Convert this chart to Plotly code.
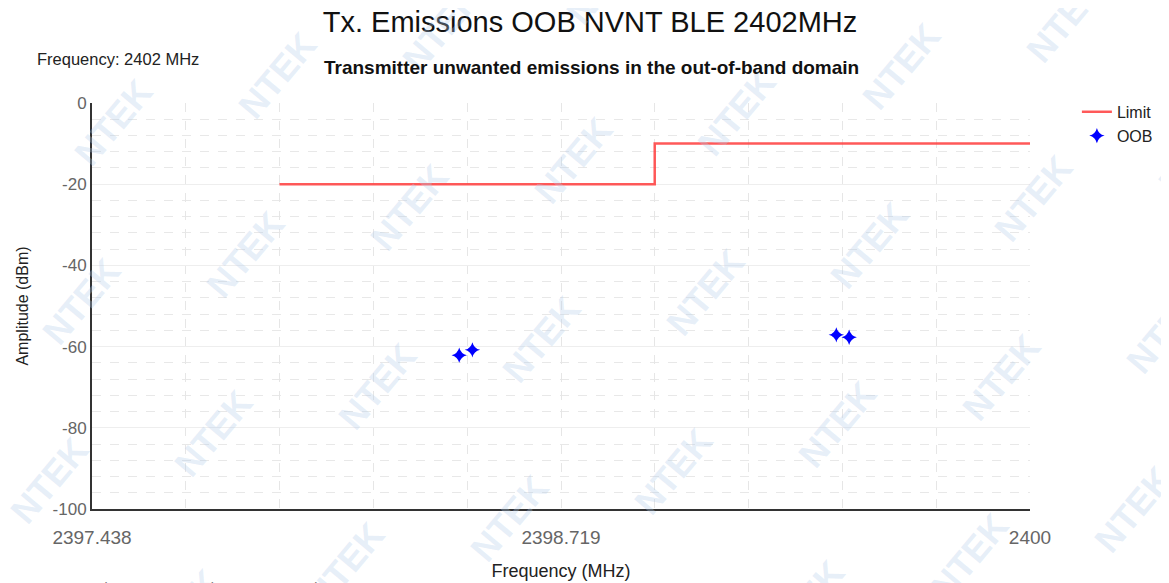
import plotly.graph_objects as go

# limit line (step)
limit_freq = [2397.950, 2398.975, 2398.975, 2400.0]
limit_amp = [-20, -20, -10, -10]

# out-of-band measured points
oob_freq = [2398.441, 2398.477, 2399.471, 2399.506]
oob_amp = [-62.1, -60.8, -57.1, -57.7]

x_start, x_end = 2397.438, 2400.0
x_grid = [x_start + i * (x_end - x_start) / 10 for i in range(11)]
x_labels = ["2397.438", "", "", "", "", "2398.719", "", "", "", "", "2400"]
y_ticks = [0, -20, -40, -60, -80, -100]
y_labels = ["0", "-20", "-40", "-60", "-80", "-100"]

fig = go.Figure()

fig.add_trace(go.Scatter(
    x=limit_freq, y=limit_amp, mode="lines", name="Limit",
    line=dict(color="rgba(255,60,60,0.85)", width=2.5),
))
fig.add_trace(go.Scatter(
    x=oob_freq, y=oob_amp, mode="markers", name="OOB",
    marker=dict(symbol="star-diamond", size=11, color="#0000ff"),
))

# NTEK watermark on a slanted lattice (screen pixels -> paper coords)
px0, pw, py1, ph = 92, 938, 509, 406
for r in range(-6, 9):
    for c in range(-6, 9):
        cx = 113 + 132 * c + 164 * r
        cy = 122 + 132 * c - 47 * r
        if -40 < cx < 1210 and -40 < cy < 620:
            fig.add_annotation(
                x=(cx - px0) / pw, y=(py1 - cy) / ph, xref="paper", yref="paper",
                xanchor="center", yanchor="middle",
                text="<b>NTEK</b>", showarrow=False, textangle=-50,
                font=dict(size=36, color="rgba(180,205,235,0.33)", family="Liberation Sans"),
            )

fig.add_annotation(
    x=(35 - px0) / pw, y=(509 - 59) / ph, xref="paper", yref="paper",
    xanchor="left", yanchor="middle",
    text="Frequency: 2402 MHz", showarrow=False,
    font=dict(size=16.5, color="#222222", family="Liberation Sans"),
)
fig.add_annotation(
    x=(591 - px0) / pw, y=(509 - 67) / ph, xref="paper", yref="paper",
    xanchor="center", yanchor="middle",
    text="<b>Transmitter unwanted emissions in the out-of-band domain</b>", showarrow=False,
    font=dict(size=19, color="#111111", family="Liberation Sans"),
)
fig.add_annotation(
    x=(35 - px0) / pw, y=(509 - 578) / ph, xref="paper", yref="paper",
    xanchor="left", yanchor="top",
    text="RBW: 100 kHz    VBW: 300 kHz    Sweep Points: 501", showarrow=False,
    font=dict(size=14, color="#777777", family="Liberation Sans"),
)

fig.update_layout(
    width=1169, height=583,
    margin=dict(l=84, r=147, t=95, b=82),
    paper_bgcolor="white", plot_bgcolor="white",
    font=dict(family="Liberation Sans", color="#222222"),
    title=dict(text="Tx. Emissions OOB NVNT BLE 2402MHz", x=(590 - 8) / 1169, xanchor="center",
               y=1 - (22 - 8) / 583, yanchor="middle", font=dict(size=29, color="#111111")),
    legend=dict(x=1.05, y=1.02, xanchor="left", yanchor="top",
                font=dict(size=16, color="#222222"), bgcolor="rgba(0,0,0,0)",
                tracegroupgap=0, itemwidth=30),
    showlegend=True,
)

fig.update_xaxes(
    range=[x_start, x_end], tickvals=x_grid, ticktext=x_labels,
    showline=True, linecolor="#333333", linewidth=2, mirror=False,
    showgrid=True, gridcolor="#e6e6e6", griddash="dash", gridwidth=1,
    zeroline=False, ticks="", ticklabelstandoff=10,
    tickfont=dict(size=19, color="#666666"),
    title=dict(text="Frequency (MHz)", font=dict(size=18, color="#222222"), standoff=18),
)
fig.update_yaxes(
    range=[-100, 0], tickvals=y_ticks, ticktext=y_labels,
    showline=True, linecolor="#333333", linewidth=2,
    showgrid=True, gridcolor="#eeeeee", gridwidth=1,
    minor=dict(dtick=4, showgrid=True, gridcolor="#e8e8e8", griddash="dash"),
    zeroline=False, ticks="",
    tickfont=dict(size=17, color="#666666"),
    title=dict(text="Amplitude (dBm)", font=dict(size=16, color="#222222"), standoff=20),
)

fig.write_html("out.html")
